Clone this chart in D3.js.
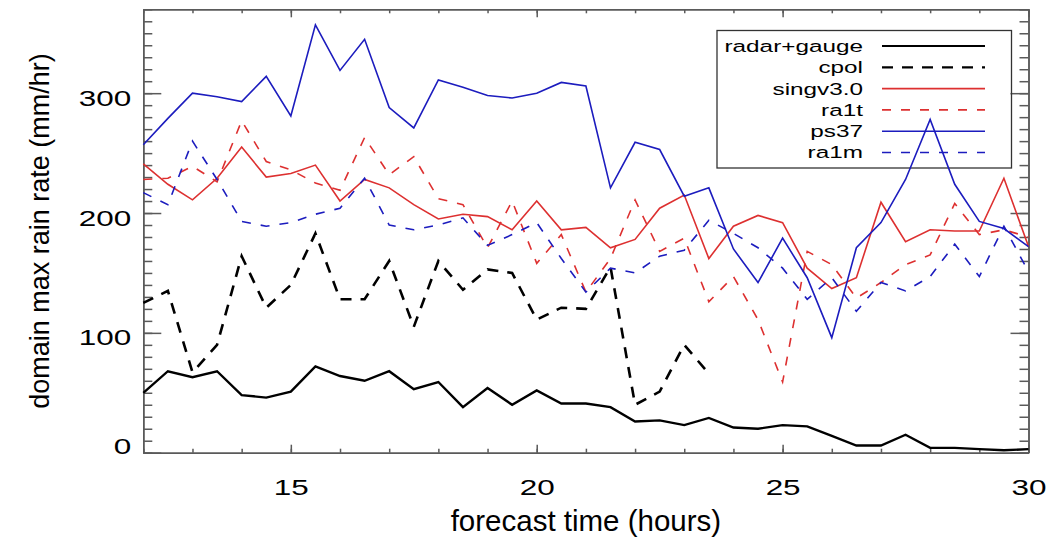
<!DOCTYPE html>
<html>
<head>
<meta charset="utf-8">
<script src="https://cdn.jsdelivr.net/npm/d3@7"></script>
<style>
  body { margin: 0; background: #fff; }
  svg { display: block; font-family: "Liberation Sans", Helvetica, Arial, sans-serif; }
  .frame path, .frame line { stroke: #5a5a5a; stroke-width: 1.5; }
</style>
</head>
<body>
<svg id="chart" width="1046" height="538"></svg>
<script>
// forecast hours (half-hourly)
var hours = [12, 12.5, 13, 13.5, 14, 14.5, 15, 15.5, 16, 16.5, 17, 17.5, 18, 18.5, 19, 19.5,
             20, 20.5, 21, 21.5, 22, 22.5, 23, 23.5, 24, 24.5, 25, 25.5, 26, 26.5, 27, 27.5,
             28, 28.5, 29, 29.5, 30];

var radarGauge = [50, 68, 63, 68, 48, 46, 51, 72, 64, 60, 68, 53, 59, 38, 54, 40,
                  52, 41, 41, 38, 26, 27, 23, 29, 21, 20, 23, 22, 14, 6, 6, 15,
                  4, 4, 3, 2, 3];
// cpol stops at 23.5 h
var cpol = [125, 135, 67, 90, 164, 121, 140, 183, 128, 128, 160, 105, 160, 136, 153, 150,
            111, 121, 120, 155, 40, 51, 90, 66];
var singv = [241, 224, 211, 229, 255, 230, 233, 240, 210, 228, 221, 207, 195, 199, 197, 186,
             210, 186, 188, 171, 178, 204, 215, 162, 189, 198, 192, 154, 137, 146, 209, 176,
             186, 185, 185, 229, 172];
var ra1t = [228, 229, 239, 226, 277, 243, 236, 225, 219, 263, 232, 247, 212, 207, 171, 210,
            158, 182, 134, 162, 211, 168, 179, 126, 147, 111, 59, 168, 157, 129, 142, 157,
            165, 208, 182, 186, 180];
var ps37 = [257, 279, 300, 297, 293, 314, 281, 357, 319, 345, 288, 271, 311, 305, 298, 296,
            300, 309, 306, 221, 259, 253, 214, 221, 170, 142, 179, 146, 96, 171, 192, 228,
            278, 224, 193, 187, 172];
var ra1m = [217, 207, 260, 228, 193, 189, 192, 199, 204, 229, 190, 186, 190, 196, 173, 182,
            192, 162, 134, 154, 150, 164, 169, 194, 183, 171, 154, 128, 146, 118, 142, 135,
            147, 174, 147, 189, 151];

var seriesNames = ["radar+gauge", "cpol", "singv3.0", "ra1t", "ps37", "ra1m"];
var seriesValues = [radarGauge, cpol, singv, ra1t, ps37, ra1m];

var xMajorTicks = [15, 20, 25, 30];
var yMajorTicks = [0, 100, 200, 300];

var styles = [
  { color: "#000000", width: 2.4, dash: null },
  { color: "#000000", width: 2.6, dash: "11,9" },
  { color: "#dd3030", width: 1.6, dash: null },
  { color: "#dd3030", width: 1.6, dash: "9,10" },
  { color: "#1c1cbe", width: 1.6, dash: null },
  { color: "#1c1cbe", width: 1.6, dash: "9,10" }
];

var SX = 1.43; // horizontal stretch of the small labels

var svg = d3.select("#chart");
var plotLeft = 143.3, plotRight = 1028.5, plotTop = 9.3, plotBottom = 452.7;

var x = d3.scaleLinear().domain([12, 30]).range([plotLeft, plotRight]);
var y = d3.scaleLinear().domain([0, 370]).range([plotBottom, plotTop]);

var frame = svg.append("g").attr("class", "frame");

// minor ticks
frame.append("g").attr("transform", "translate(0," + plotBottom + ")")
  .call(d3.axisBottom(x).tickValues(x.ticks(18)).tickSize(-4).tickSizeOuter(0).tickFormat(""));
frame.append("g").attr("transform", "translate(0," + plotTop + ")")
  .call(d3.axisTop(x).tickValues(x.ticks(18)).tickSize(-4).tickSizeOuter(0).tickFormat(""));
frame.append("g").attr("transform", "translate(" + plotLeft + ",0)")
  .call(d3.axisLeft(y).tickValues(y.ticks(37)).tickSize(-9).tickSizeOuter(0).tickFormat(""));
frame.append("g").attr("transform", "translate(" + plotRight + ",0)")
  .call(d3.axisRight(y).tickValues(y.ticks(37)).tickSize(-9).tickSizeOuter(0).tickFormat(""));

// major ticks
var xb = frame.append("g").attr("transform", "translate(0," + plotBottom + ")")
  .call(d3.axisBottom(x).tickValues(xMajorTicks).tickSize(-8).tickSizeOuter(0).tickPadding(27));
frame.append("g").attr("transform", "translate(0," + plotTop + ")")
  .call(d3.axisTop(x).tickValues(xMajorTicks).tickSize(-8).tickSizeOuter(0).tickFormat(""));
var yl = frame.append("g").attr("transform", "translate(" + plotLeft + ",0)")
  .call(d3.axisLeft(y).tickValues(yMajorTicks).tickSize(-18).tickSizeOuter(0).tickPadding(12));
frame.append("g").attr("transform", "translate(" + plotRight + ",0)")
  .call(d3.axisRight(y).tickValues(yMajorTicks).tickSize(-18).tickSizeOuter(0).tickFormat(""));

xb.selectAll("text")
  .attr("fill", "#000").attr("font-size", 22)
  .attr("transform", "scale(" + SX + ",1)");
yl.selectAll("text")
  .attr("fill", "#000").attr("font-size", 22)
  .attr("x", -12 / SX)
  .attr("dy", function (d) { return Math.min(12, y(0) - y(d) + 0.5); })
  .attr("transform", "scale(" + SX + ",1)");
frame.selectAll(".domain").attr("stroke", "#5a5a5a");

// legend (transparent box, lines show through)
var lg = svg.append("g");
lg.append("rect")
  .attr("x", 717).attr("y", 30.5).attr("width", 294.5).attr("height", 137.5)
  .attr("fill", "none").attr("stroke", "#333").attr("stroke-width", 1.3);

var rows = lg.selectAll("g.row")
  .data(seriesNames)
  .join("g")
  .attr("class", "row")
  .attr("transform", function (d, i) { return "translate(0," + (46 + i * 21.3) + ")"; });

rows.append("line")
  .attr("x1", 882).attr("x2", 985)
  .attr("stroke", function (d, i) { return styles[i].color; })
  .attr("stroke-width", function (d, i) { return Math.min(styles[i].width, 2.2); })
  .attr("stroke-dasharray", function (d, i) { return styles[i].dash; });

rows.append("text")
  .attr("transform", "translate(863,0) scale(" + SX + ",1)")
  .attr("text-anchor", "end")
  .attr("dy", "0.35em")
  .attr("font-size", 17)
  .text(function (d) { return d; });

// lines
var line = d3.line()
  .x(function (d, i) { return x(hours[i]); })
  .y(function (d) { return y(d); });

svg.append("g").selectAll("path")
  .data(seriesValues)
  .join("path")
  .attr("d", function (d) { return line(d); })
  .attr("fill", "none")
  .attr("stroke", function (d, i) { return styles[i].color; })
  .attr("stroke-width", function (d, i) { return styles[i].width; })
  .attr("stroke-dasharray", function (d, i) { return styles[i].dash; })
  .attr("stroke-linejoin", "miter");

// axis titles
svg.append("text")
  .attr("x", (plotLeft + plotRight) / 2).attr("y", 521)
  .attr("text-anchor", "middle").attr("dy", "0.35em")
  .attr("font-size", 29.5)
  .text("forecast time (hours)");

svg.append("text")
  .attr("transform", "translate(40," + ((plotTop + plotBottom) / 2) + ") rotate(-90)")
  .attr("text-anchor", "middle").attr("dy", "0.35em")
  .attr("font-size", 27)
  .text("domain max rain rate (mm/hr)");
</script>
</body>
</html>
